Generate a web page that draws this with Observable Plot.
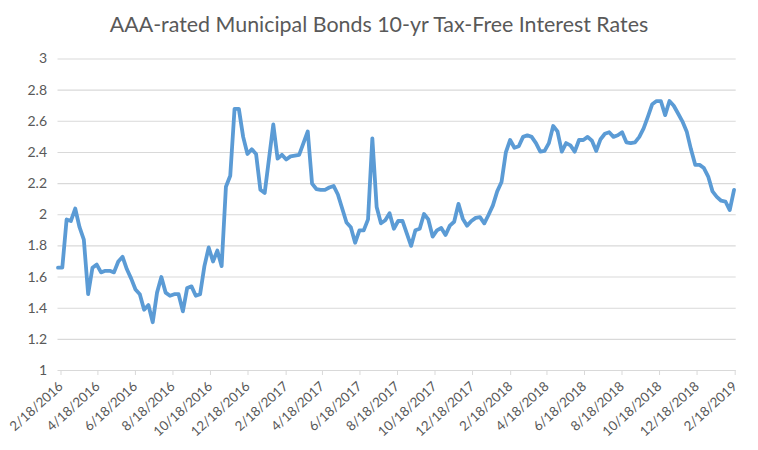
<!DOCTYPE html>
<html><head><meta charset="utf-8">
<script src="https://cdn.jsdelivr.net/npm/d3@7"></script>
<script src="https://cdn.jsdelivr.net/npm/@observablehq/plot@0.6"></script>
<style>
html,body{margin:0;padding:0;background:#fff}
#title{height:40px;width:758px;padding-top:9px;box-sizing:border-box;text-align:center;font:400 21.4px/30px Lato,sans-serif;color:#595959;white-space:nowrap}
svg{display:block}
</style></head><body>
<div id="title">AAA-rated Municipal Bonds 10-yr Tax-Free Interest Rates</div>
<div id="chart"></div>
<script>
const rates = [1.66,1.66,1.97,1.96,2.04,1.92,1.84,1.49,1.66,1.68,1.63,1.64,1.64,1.63,1.70,1.73,1.65,1.59,1.52,1.49,
1.39,1.42,1.31,1.50,1.60,1.50,1.48,1.49,1.49,1.38,1.53,1.54,1.48,1.49,1.67,1.79,1.70,1.77,1.67,2.18,
2.25,2.68,2.68,2.50,2.39,2.42,2.39,2.16,2.14,2.36,2.58,2.36,2.385,2.355,2.375,2.38,2.385,2.46,2.535,2.20,
2.165,2.16,2.16,2.175,2.185,2.13,2.04,1.95,1.92,1.82,1.90,1.90,1.97,2.49,2.05,1.945,1.965,2.01,1.91,1.96,
1.96,1.88,1.80,1.90,1.91,2.005,1.97,1.86,1.90,1.915,1.87,1.93,1.955,2.07,1.975,1.93,1.96,1.98,1.985,1.945,
2.00,2.06,2.15,2.21,2.40,2.48,2.43,2.44,2.50,2.51,2.50,2.46,2.405,2.41,2.46,2.57,2.535,2.405,2.46,2.445,
2.405,2.48,2.48,2.50,2.475,2.41,2.485,2.52,2.53,2.50,2.51,2.53,2.465,2.46,2.465,2.50,2.555,2.63,2.71,2.73,
2.73,2.64,2.73,2.70,2.65,2.60,2.535,2.42,2.32,2.32,2.30,2.245,2.15,2.115,2.09,2.085,2.03,2.16];
const firstDate = "2016-02-18";
const axisEnd = "2019-02-24T12:00Z";
const xTickLabels = ["2/18/2016","4/18/2016","6/18/2016","8/18/2016","10/18/2016","12/18/2016","2/18/2017","4/18/2017","6/18/2017","8/18/2017","10/18/2017","12/18/2017","2/18/2018","4/18/2018","6/18/2018","8/18/2018","10/18/2018","12/18/2018","2/18/2019"];
const yTicks = [1,1.2,1.4,1.6,1.8,2,2.2,2.4,2.6,2.8,3];

const parseLabel = d3.utcParse("%m/%d/%Y");
const xTicks = xTickLabels.map(parseLabel);
const start = new Date(firstDate);
const table = rates.map((rate,i)=>({date:d3.utcDay.offset(start,i*7),rate}));
const fmt = d3.utcFormat("%-m/%-d/%Y");

document.getElementById("chart").append(Plot.plot({
  width:758,height:410,
  marginLeft:57.5,marginRight:22.3,marginTop:18.5,marginBottom:80,
  style:{fontFamily:"Lato, sans-serif",background:"#fff",overflow:"visible"},
  x:{type:"utc",domain:[start,new Date(axisEnd)]},
  y:{domain:[1,3]},
  marks:[
    Plot.ruleY(yTicks,{stroke:"#d9d9d9",strokeWidth:1.1}),
    Plot.axisY({ticks:yTicks,tickSize:0,tickPadding:11,tickFormat:d=>String(d),fontSize:14,fill:"#595959",label:null}),
    Plot.axisX({ticks:xTicks,tickFormat:fmt,tickSize:5,stroke:"#d9d9d9",tickRotate:-42,textAnchor:"end",fontSize:13.3,fill:"#595959",label:null,tickPadding:9,dx:3}),
    Plot.lineY(table,{x:"date",y:"rate",stroke:"#5b9bd5",strokeWidth:3.8,strokeLinejoin:"round",strokeLinecap:"round"})
  ]
}));
</script></body></html>
